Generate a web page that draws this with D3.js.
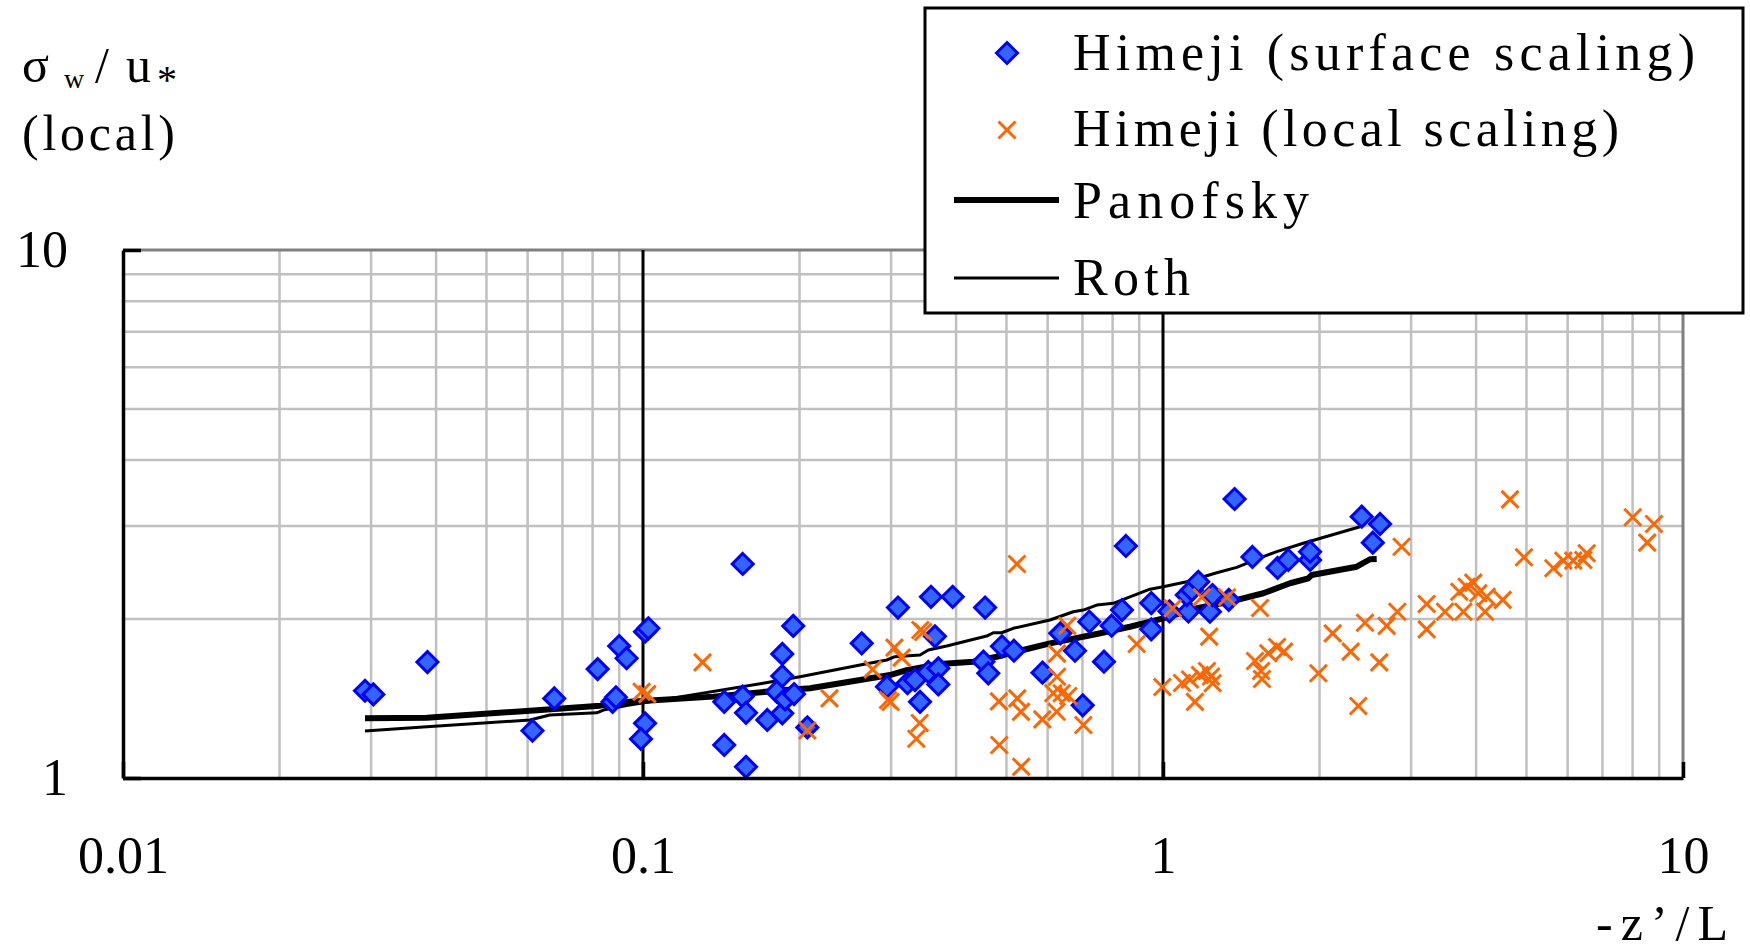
<!DOCTYPE html>
<html>
<head>
<meta charset="utf-8">
<script src="https://cdn.jsdelivr.net/npm/d3@7"></script>
<style>
  body { margin: 0; background: #fff; }
  svg text { font-family: "Liberation Serif", "DejaVu Serif", serif; fill: #000; }
</style>
</head>
<body>
<svg id="chart" width="1750" height="951"></svg>
<script>
'use strict';

// Himeji, surface scaling (blue diamonds)
var surfaceX = [0.0292, 0.0303, 0.0385, 0.0613, 0.0675, 0.0818, 0.0874, 0.0887, 0.0900, 0.0930,
  0.1009, 0.1024, 0.1009, 0.0991, 0.1555, 0.1433, 0.1433, 0.1555, 0.1578, 0.1578,
  0.1734, 0.1808, 0.1853, 0.1853, 0.1853, 0.1876, 0.1945, 0.1952, 0.207, 0.2634,
  0.2946, 0.3093, 0.358, 0.394, 0.4548, 0.3643, 0.3226, 0.3335, 0.341, 0.3538,
  0.3698, 0.3698, 0.4514, 0.4613, 0.4901, 0.5169, 0.5865, 0.6346, 0.6773, 0.7008,
  0.7217, 0.77, 0.7967, 0.8338, 0.8486, 0.9495, 0.9495, 1.029, 1.119, 1.111,
  1.136, 1.169, 1.231, 1.245, 1.338, 1.373, 1.486, 1.661, 1.742, 1.918,
  1.918, 2.411, 2.615, 2.532];
var surfaceY = [1.463, 1.440, 1.658, 1.229, 1.415, 1.608, 1.394, 1.422, 1.778, 1.686,
  1.893, 1.921, 1.269, 1.186, 2.543, 1.394, 1.155, 1.426, 1.329, 1.050,
  1.288, 1.457, 1.718, 1.560, 1.326, 1.409, 1.941, 1.442, 1.247, 1.799,
  1.489, 2.103, 2.204, 2.204, 2.103, 1.855, 1.512, 1.533, 1.394, 1.588,
  1.613, 1.504, 1.661, 1.579, 1.776, 1.742, 1.583, 1.879, 1.742, 1.373,
  1.977, 1.661, 1.943, 2.080, 2.751, 2.145, 1.913, 2.069, 2.067, 2.221,
  2.270, 2.353, 2.065, 2.221, 2.174, 3.376, 2.622, 2.499, 2.588, 2.588,
  2.683, 3.126, 3.028, 2.791];

// Himeji, local scaling (orange crosses)
var localX = [0.0994, 0.1019, 0.1302, 0.2071, 0.2284, 0.2765, 0.3045, 0.3144, 0.3415, 0.3459,
  0.2959, 0.2994, 0.3405, 0.3355, 0.5238, 0.4836, 0.5245, 0.5333, 0.4843, 0.5338,
  0.586, 0.6255, 0.6255, 0.6152, 0.6386, 0.6576, 0.6246, 0.7027, 0.6546, 0.8901,
  0.997, 1.044, 1.187, 1.328, 1.227, 1.537, 1.088, 1.127, 1.152, 1.178,
  1.215, 1.246, 1.237, 1.503, 1.544, 1.550, 1.594, 1.657, 1.709, 1.990,
  2.120, 2.296, 2.375, 2.446, 2.606, 2.693, 2.823, 2.877, 3.214, 3.214,
  3.486, 3.781, 3.714, 3.837, 3.951, 4.040, 4.162, 4.194, 4.501, 4.648,
  4.946, 5.632, 5.887, 6.152, 6.432, 6.529, 8.006, 8.795, 8.537];
var localY = [1.457, 1.442, 1.656, 1.230, 1.415, 1.606, 1.766, 1.690, 1.907, 1.890,
  1.405, 1.393, 1.271, 1.187, 2.543, 1.397, 1.415, 1.334, 1.155, 1.050,
  1.291, 1.720, 1.555, 1.447, 1.447, 1.430, 1.335, 1.260, 1.943, 1.794,
  1.487, 2.096, 2.199, 2.199, 1.852, 2.099, 1.513, 1.537, 1.394, 1.567,
  1.595, 1.512, 1.557, 1.666, 1.595, 1.540, 1.723, 1.771, 1.735, 1.579,
  1.879, 1.735, 1.369, 1.968, 1.656, 1.941, 2.065, 2.742, 2.136, 1.912,
  2.065, 2.065, 2.253, 2.303, 2.344, 2.238, 2.065, 2.204, 2.174, 3.371,
  2.618, 2.496, 2.580, 2.580, 2.588, 2.665, 3.117, 3.028, 2.791];

// Panofsky curve (thick)
var panofskyX = [0.0292, 0.0384, 0.0606, 0.0827, 0.0944, 0.1365, 0.1808, 0.2095, 0.2615, 0.2985,
  0.3214, 0.3726, 0.4318, 0.4787, 0.5309, 0.6063, 0.7457, 0.8639, 1.001, 1.161,
  1.346, 1.559, 1.755, 1.903, 1.932, 2.358, 2.501, 2.576];
var panofskyY = [1.297, 1.301, 1.341, 1.371, 1.394, 1.426, 1.463, 1.479, 1.533, 1.567,
  1.601, 1.644, 1.661, 1.697, 1.742, 1.799, 1.874, 1.934, 2.006, 2.096,
  2.158, 2.238, 2.338, 2.389, 2.424, 2.513, 2.596, 2.599];

// Roth curve (thin)
var rothX = [0.0292, 0.0384, 0.0606, 0.0662, 0.0815, 0.0839, 0.0930, 0.1703, 0.2004, 0.2615,
  0.2943, 0.3051, 0.3410, 0.3538, 0.3837, 0.4581, 0.4717, 0.4894, 0.5153, 0.6063,
  0.6722, 0.7027, 0.7457, 0.8025, 0.8639, 0.944, 1.001, 1.111, 1.269, 1.386,
  1.559, 1.655, 1.861, 2.393];
var rothY = [1.227, 1.251, 1.288, 1.316, 1.329, 1.345, 1.371, 1.512, 1.555, 1.637,
  1.673, 1.697, 1.710, 1.748, 1.778, 1.857, 1.884, 1.884, 1.921, 1.992,
  2.065, 2.080, 2.126, 2.142, 2.204, 2.278, 2.303, 2.353, 2.448, 2.506,
  2.625, 2.683, 2.783, 2.992];

var xTicks = [0.01, 0.1, 1, 10];
var yTicks = [1, 10];
var xTickLabels = ['0.01', '0.1', '1', '10'];
var yTickLabels = ['1', '10'];
var legendLabels = ['Himeji (surface scaling)', 'Himeji (local scaling)', 'Panofsky', 'Roth'];

var margin = { top: 250, right: 67, bottom: 173, left: 123 };
var width = 1750 - margin.left - margin.right;
var height = 951 - margin.top - margin.bottom;

var zip = function zip(xs, ys) {
  return xs.map(function (d, i) { return [d, ys[i]]; });
};
var isDecade = function isDecade(d) {
  var l = Math.log10(d);
  return Math.abs(l - Math.round(l)) < 1e-6;
};

var svg = d3.select('#chart');
var g = svg.append('g').attr('transform', 'translate(' + margin.left + ',' + margin.top + ')');

var x = d3.scaleLog().domain([0.01, 10]).range([0, width]);
var y = d3.scaleLog().domain([1, 10]).range([height, 0]);

// minor grid
g.append('g').attr('class', 'grid').selectAll('line.v')
  .data(x.ticks().filter(function (d) { return !isDecade(d); }))
  .enter().append('line')
  .attr('x1', function (d) { return x(d); }).attr('x2', function (d) { return x(d); })
  .attr('y1', 0).attr('y2', height)
  .attr('stroke', '#c0c0c0').attr('stroke-width', 2.5);

g.append('g').attr('class', 'grid').selectAll('line.h')
  .data(y.ticks().filter(function (d) { return !isDecade(d); }))
  .enter().append('line')
  .attr('y1', function (d) { return y(d); }).attr('y2', function (d) { return y(d); })
  .attr('x1', 0).attr('x2', width)
  .attr('stroke', '#c0c0c0').attr('stroke-width', 2.5);

// plot area border (top / right)
g.append('path')
  .attr('d', 'M0,' + y(10) + 'H' + x(10) + 'V' + y(1))
  .attr('fill', 'none').attr('stroke', '#808080').attr('stroke-width', 3);

// major grid at 0.1 and 1
g.append('g').selectAll('line')
  .data([0.1, 1])
  .enter().append('line')
  .attr('x1', function (d) { return x(d); }).attr('x2', function (d) { return x(d); })
  .attr('y1', 0).attr('y2', height)
  .attr('stroke', '#000').attr('stroke-width', 3);

// curves
var line = d3.line().x(function (d) { return x(d[0]); }).y(function (d) { return y(d[1]); });

g.append('path').datum(zip(panofskyX, panofskyY))
  .attr('d', line).attr('fill', 'none').attr('stroke', '#000').attr('stroke-width', 6)
  .attr('stroke-linejoin', 'round');
g.append('path').datum(zip(rothX, rothY))
  .attr('d', line).attr('fill', 'none').attr('stroke', '#000').attr('stroke-width', 3)
  .attr('stroke-linejoin', 'round');

var diamond = 'M0,-10.5L10.5,0L0,10.5L-10.5,0Z';
var cross = 'M-8.5,-8.5L8.5,8.5M-8.5,8.5L8.5,-8.5';

g.append('g').selectAll('path')
  .data(zip(surfaceX, surfaceY))
  .enter().append('path')
  .attr('d', diamond)
  .attr('transform', function (d) { return 'translate(' + x(d[0]) + ',' + y(d[1]) + ')'; })
  .attr('fill', '#3366ff').attr('stroke', '#0000ff').attr('stroke-width', 3);

g.append('g').selectAll('path')
  .data(zip(localX, localY))
  .enter().append('path')
  .attr('d', cross)
  .attr('transform', function (d) { return 'translate(' + x(d[0]) + ',' + y(d[1]) + ')'; })
  .attr('fill', 'none').attr('stroke', '#ff6600').attr('stroke-width', 3);

// axes
var xAxis = d3.axisBottom(x).tickValues(xTicks).tickSizeInner(-16).tickSizeOuter(0).tickPadding(58)
  .tickFormat(function (d, i) { return xTickLabels[i]; });
var yAxis = d3.axisLeft(y).tickValues(yTicks).tickSizeInner(-18).tickSizeOuter(0).tickPadding(55)
  .tickFormat(function (d, i) { return yTickLabels[i]; });

var gx = g.append('g').attr('transform', 'translate(0,' + height + ')').call(xAxis);
var gy = g.append('g').call(yAxis);
[gx, gy].forEach(function (ax) {
  ax.attr('font-family', null).attr('font-size', null);
  ax.select('.domain').attr('stroke', '#000').attr('stroke-width', 3.5);
  ax.selectAll('.tick line').attr('stroke', '#000').attr('stroke-width', 3.5);
  ax.selectAll('.tick text').attr('font-size', 52).attr('fill', '#000');
});

// axis titles
var yTitle = svg.append('text').attr('font-size', 50);
yTitle.append('tspan').attr('x', 22).attr('y', 82).text('σ');
yTitle.append('tspan').attr('x', 64).attr('y', 88).attr('font-size', 28).text('w');
yTitle.append('tspan').attr('x', 95).attr('y', 82).text('/');
yTitle.append('tspan').attr('x', 126).attr('y', 82).text('u');
yTitle.append('tspan').attr('x', 157).attr('y', 93).attr('font-size', 40).text('*');
svg.append('text').attr('x', 22).attr('y', 150).attr('font-size', 50)
  .attr('textLength', 153).attr('lengthAdjust', 'spacing').text('(local)');

svg.append('text').attr('x', 1596).attr('y', 940).attr('font-size', 50)
  .attr('textLength', 132).attr('lengthAdjust', 'spacing').text('-z’/L');

// legend
var legend = svg.append('g');
legend.append('rect').attr('x', 925).attr('y', 8).attr('width', 818).attr('height', 305)
  .attr('fill', '#fff').attr('stroke', '#000').attr('stroke-width', 3);

legend.append('path').attr('d', diamond).attr('transform', 'translate(1007,53)')
  .attr('fill', '#3366ff').attr('stroke', '#0000ff').attr('stroke-width', 3);
legend.append('path').attr('d', cross).attr('transform', 'translate(1007,130)')
  .attr('fill', 'none').attr('stroke', '#ff6600').attr('stroke-width', 3);
legend.append('line').attr('x1', 954).attr('x2', 1059).attr('y1', 200).attr('y2', 200)
  .attr('stroke', '#000').attr('stroke-width', 6);
legend.append('line').attr('x1', 954).attr('x2', 1059).attr('y1', 278).attr('y2', 278)
  .attr('stroke', '#000').attr('stroke-width', 3);

var legendRows = [
  { y: 70, w: 622 },
  { y: 146, w: 546 },
  { y: 218, w: 236 },
  { y: 295, w: 117 }
];
legend.selectAll('text.lbl')
  .data(legendLabels)
  .enter().append('text')
  .attr('class', 'lbl')
  .attr('x', 1073)
  .attr('y', function (d, i) { return legendRows[i].y; })
  .attr('font-size', 52)
  .attr('textLength', function (d, i) { return legendRows[i].w; })
  .attr('lengthAdjust', 'spacing')
  .text(function (d) { return d; });
</script>
</body>
</html>
